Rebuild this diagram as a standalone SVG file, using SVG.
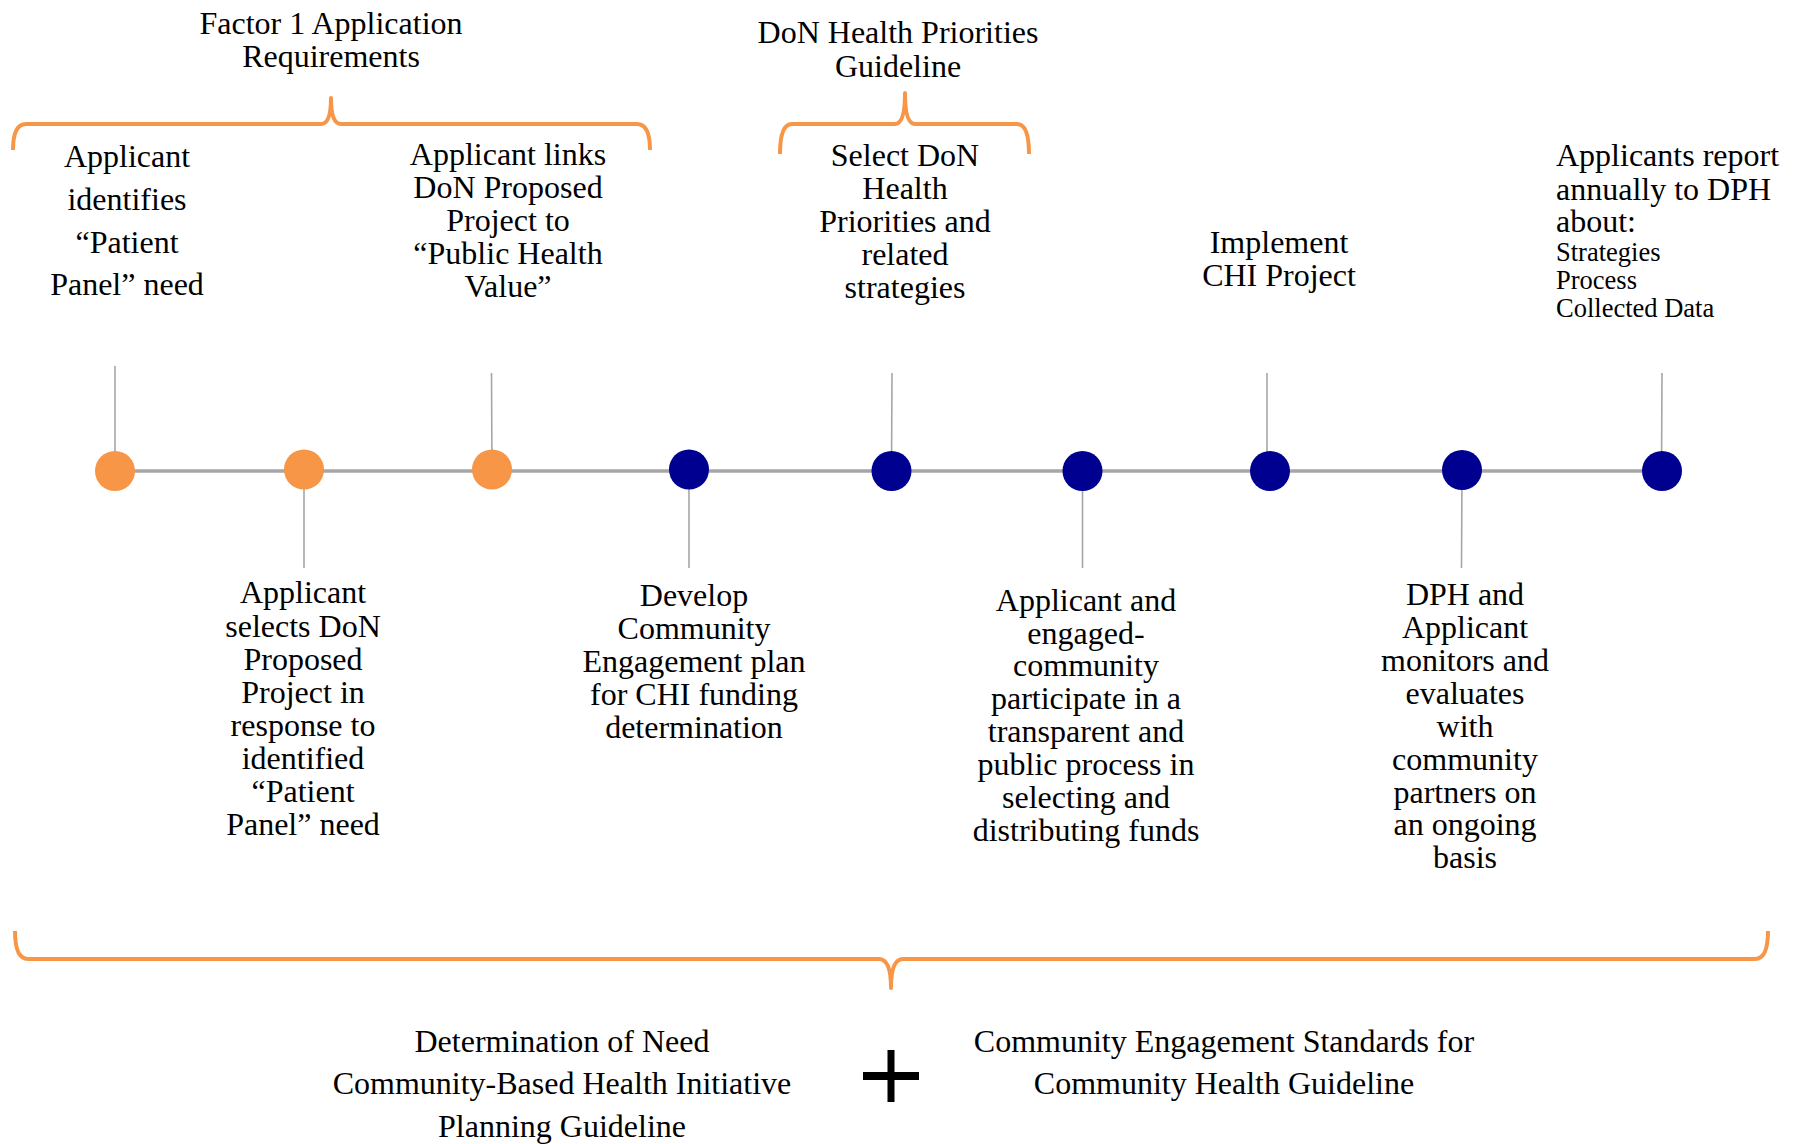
<svg xmlns="http://www.w3.org/2000/svg" width="1802" height="1144" viewBox="0 0 1802 1144">
<style>
text{font-family:"Liberation Serif","Times New Roman",serif;font-size:32px;fill:#000;text-anchor:middle}
.l{text-anchor:start}
.s{font-size:26.5px}
.brace{fill:none;stroke:#f79646;stroke-width:4;stroke-linejoin:round}
.stem{stroke:#a6a6a6;stroke-width:1.6;fill:none}
.axis{stroke:#a6a6a6;stroke-width:3.5}
.or{fill:#f79646}
.nv{fill:#000090}
</style>
<rect width="1802" height="1144" fill="#fff"/>
<g id="braces">
<path class="brace" d="M13 150 Q13 124 26 124 L321 124 Q331 124 331 98 Q331 124 341 124 L637 124 Q650 124 650 150"/>
<path class="brace" d="M780 154 Q780 124 792 124 L895 124 Q905 124 905 93 Q905 124 915 124 L1017 124 Q1029 124 1029 154"/>
<path class="brace" d="M15 931 Q15 959 28 959 L879 959 Q891 959 891 988 Q891 959 903 959 L1755 959 Q1768 959 1768 931"/>
</g>
<g id="connectors">
<line class="axis" x1="115" y1="471" x2="1662" y2="471"/>
<line class="stem" x1="115" y1="366" x2="115" y2="471"/>
<line class="stem" x1="304" y1="471" x2="304" y2="568"/>
<line class="stem" x1="491.5" y1="373" x2="492" y2="471"/>
<line class="stem" x1="689" y1="471" x2="689" y2="568"/>
<line class="stem" x1="892" y1="373" x2="891.5" y2="471"/>
<line class="stem" x1="1082.5" y1="471" x2="1082.5" y2="568"/>
<line class="stem" x1="1267" y1="373" x2="1267" y2="471"/>
<line class="stem" x1="1462" y1="471" x2="1461.5" y2="568"/>
<line class="stem" x1="1662" y1="373" x2="1661.5" y2="471"/>
</g>
<g id="nodes">
<circle id="n1" class="or" cx="115" cy="471" r="20"/>
<circle id="n2" class="or" cx="304" cy="469.5" r="20"/>
<circle id="n3" class="or" cx="492" cy="469.5" r="20"/>
<circle id="n4" class="nv" cx="689" cy="469.5" r="20"/>
<circle id="n5" class="nv" cx="891.5" cy="471" r="20"/>
<circle id="n6" class="nv" cx="1082.5" cy="471" r="20"/>
<circle id="n7" class="nv" cx="1270" cy="471" r="20"/>
<circle id="n8" class="nv" cx="1462" cy="470" r="20"/>
<circle id="n9" class="nv" cx="1662" cy="471" r="20"/>
</g>
<g id="label-factor1">
<text x="331" y="33.5">Factor 1 Application</text>
<text x="331" y="66.5">Requirements</text>
</g>
<g id="label-don-priorities">
<text x="898" y="43">DoN Health Priorities</text>
<text x="898" y="77">Guideline</text>
</g>
<g id="label-1">
<text x="127" y="167">Applicant</text>
<text x="127" y="209.5">identifies</text>
<text x="127" y="252.5">“Patient</text>
<text x="127" y="294.5">Panel” need</text>
</g>
<g id="label-3">
<text x="508" y="165">Applicant links</text>
<text x="508" y="197.5">DoN Proposed</text>
<text x="508" y="230.5">Project to</text>
<text x="508" y="263.5">“Public Health</text>
<text x="508" y="296.5">Value”</text>
</g>
<g id="label-5">
<text x="905" y="165.5">Select DoN</text>
<text x="905" y="198.5">Health</text>
<text x="905" y="231.5">Priorities and</text>
<text x="905" y="264.5">related</text>
<text x="905" y="297.5">strategies</text>
</g>
<g id="label-7">
<text x="1279" y="252.5">Implement</text>
<text x="1279" y="286">CHI Project</text>
</g>
<g id="label-9">
<text class="l" x="1556" y="166">Applicants report</text>
<text class="l" x="1556" y="199.5">annually to DPH</text>
<text class="l" x="1556" y="232">about:</text>
<text class="l s" x="1556" y="260.5">Strategies</text>
<text class="l s" x="1556" y="288.5">Process</text>
<text class="l s" x="1556" y="317">Collected Data</text>
</g>
<g id="label-2">
<text x="303" y="603">Applicant</text>
<text x="303" y="636.5">selects DoN</text>
<text x="303" y="669.5">Proposed</text>
<text x="303" y="702.5">Project in</text>
<text x="303" y="735.5">response to</text>
<text x="303" y="768.5">identified</text>
<text x="303" y="801.5">“Patient</text>
<text x="303" y="835">Panel” need</text>
</g>
<g id="label-4">
<text x="694" y="605.5">Develop</text>
<text x="694" y="638.5">Community</text>
<text x="694" y="671.5">Engagement plan</text>
<text x="694" y="704.5">for CHI funding</text>
<text x="694" y="737.5">determination</text>
</g>
<g id="label-6">
<text x="1086" y="610.5">Applicant and</text>
<text x="1086" y="643.5">engaged-</text>
<text x="1086" y="676">community</text>
<text x="1086" y="709">participate in a</text>
<text x="1086" y="741.5">transparent and</text>
<text x="1086" y="774.5">public process in</text>
<text x="1086" y="807.5">selecting and</text>
<text x="1086" y="840.5">distributing funds</text>
</g>
<g id="label-8">
<text x="1465" y="605">DPH and</text>
<text x="1465" y="638">Applicant</text>
<text x="1465" y="671">monitors and</text>
<text x="1465" y="704">evaluates</text>
<text x="1465" y="736.5">with</text>
<text x="1465" y="769.5">community</text>
<text x="1465" y="802.5">partners on</text>
<text x="1465" y="835">an ongoing</text>
<text x="1465" y="867.5">basis</text>
</g>
<g id="label-bottom-left">
<text x="562" y="1052">Determination of Need</text>
<text x="562" y="1094">Community-Based Health Initiative</text>
<text x="562" y="1137">Planning Guideline</text>
</g>
<g id="plus">
<rect x="863" y="1072" width="56" height="8" fill="#000"/>
<rect x="887.5" y="1050" width="7" height="52" fill="#000"/>
</g>
<g id="label-bottom-right">
<text x="1224" y="1052">Community Engagement Standards for</text>
<text x="1224" y="1094">Community Health Guideline</text>
</g>
</svg>
